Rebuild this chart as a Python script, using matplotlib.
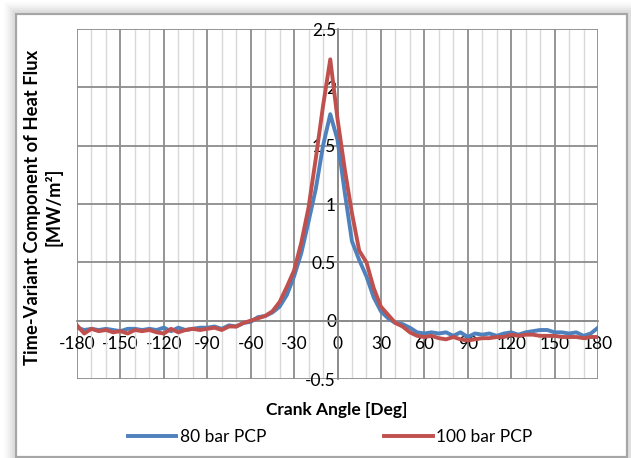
import matplotlib.pyplot as plt
from matplotlib.patches import Rectangle
from matplotlib.ticker import MultipleLocator
from matplotlib.lines import Line2D

plt.rcParams['font.family'] = ['Lato', 'DejaVu Sans']

# crank angle, deg (5 deg steps)
crank_angle = list(range(-180, 185, 5))

# time-variant heat flux component, MW/m2
flux_80bar = [
    -0.06, -0.08, -0.07, -0.08, -0.07, -0.08, -0.09, -0.07, -0.07, -0.08,   # -180 .. -135
    -0.07, -0.08, -0.06, -0.09, -0.06, -0.08, -0.07, -0.06, -0.06, -0.05,   # -130 .. -85
    -0.07, -0.04, -0.05, -0.02, -0.01, 0.03, 0.04, 0.07, 0.12, 0.22,        # -80 .. -35
    0.38, 0.58, 0.85, 1.13, 1.50, 1.77, 1.55, 1.10, 0.68, 0.52,             # -30 .. 15
    0.38, 0.20, 0.08, 0.02, -0.02, -0.03, -0.06, -0.10, -0.11, -0.10,       # 20 .. 65
    -0.11, -0.10, -0.13, -0.10, -0.14, -0.11, -0.12, -0.11, -0.13, -0.11,   # 70 .. 115
    -0.10, -0.12, -0.10, -0.09, -0.08, -0.08, -0.10, -0.10, -0.11, -0.10,   # 120 .. 165
    -0.13, -0.11, -0.06,                                                    # 170 .. 180
]
flux_100bar = [
    -0.04, -0.11, -0.07, -0.09, -0.08, -0.10, -0.09, -0.11, -0.08, -0.09,
    -0.08, -0.10, -0.11, -0.07, -0.10, -0.08, -0.07, -0.08, -0.07, -0.06,
    -0.08, -0.05, -0.05, -0.02, 0.00, 0.02, 0.04, 0.08, 0.16, 0.29,
    0.43, 0.67, 0.97, 1.39, 1.84, 2.24, 1.73, 1.30, 0.92, 0.60,
    0.50, 0.28, 0.12, 0.05, -0.02, -0.05, -0.10, -0.13, -0.14, -0.13,
    -0.15, -0.16, -0.14, -0.16, -0.17, -0.16, -0.15, -0.15, -0.14, -0.14,
    -0.12, -0.13, -0.12, -0.12, -0.13, -0.13, -0.13, -0.14, -0.14, -0.14,
    -0.15, -0.14, -0.14,
]

blue = '#4F81BD'
red = '#C0504D'

fig = plt.figure(figsize=(6.31, 4.58), dpi=100)

# faint shadow on the left/top edge plus the chart frame
W, H = 631, 458
for i, a in enumerate([0.015, 0.02, 0.025, 0.03, 0.035]):
    off = 12 - 2 * i
    fig.patches.append(Rectangle(((16 - off) / W, 0), (W - 16 + off) / W, (H - 14 + off) / H,
                                 transform=fig.transFigure, facecolor='black', alpha=a,
                                 edgecolor='none', zorder=-3))
fig.patches.append(Rectangle((16 / W, 1 / H), 611 / W, (H - 15) / H,
                             transform=fig.transFigure, facecolor='white',
                             edgecolor='#a6a6a6', linewidth=1.6, zorder=-2))

ax = fig.add_axes([77 / W, 79 / H, 521 / W, 350 / H])
ax.set_facecolor('none')

ax.plot(crank_angle, flux_80bar, color=blue, lw=2.8, zorder=4, solid_joinstyle='round')
ax.plot(crank_angle, flux_100bar, color=red, lw=2.8, zorder=5, solid_joinstyle='round')

ax.set_xlim(-180, 180)
ax.set_ylim(-0.5, 2.5)
ax.xaxis.set_major_locator(MultipleLocator(30))
ax.xaxis.set_minor_locator(MultipleLocator(10))
ax.yaxis.set_major_locator(MultipleLocator(0.5))

ax.grid(which='major', color='#8c8c8c', lw=1.3, zorder=1)
ax.grid(which='minor', axis='x', color='#d9d9d9', lw=1.0, zorder=0)
ax.set_axisbelow(True)

# axes cross at the origin
for s in ['top', 'right']:
    ax.spines[s].set_visible(False)
ax.spines['left'].set_position(('data', 0))
ax.spines['bottom'].set_position(('data', 0))
ax.spines['left'].set_color('#8c8c8c')
ax.spines['bottom'].set_color('#8c8c8c')
ax.spines['left'].set_linewidth(1.3)
ax.spines['bottom'].set_linewidth(1.3)

ax.tick_params(which='both', length=0)
ax.tick_params(axis='x', pad=11, labelsize=12.5)
ax.tick_params(axis='y', pad=1, labelsize=12.5)
ax.set_xticklabels([f'{int(v)}' for v in ax.get_xticks()])
ax.set_yticklabels([f'{v:g}' for v in ax.get_yticks()])

fig.text(337 / W, 1 - 410 / H, 'Crank Angle [Deg]', ha='center', va='center',
         fontsize=12.5, fontweight='bold')
fig.text(43 / W, 1 - 207 / H, 'Time-Variant Component of Heat Flux\n[MW/m²]',
         ha='center', va='center', rotation=90, fontsize=13.2, fontweight='bold',
         linespacing=1.2)

handles = [Line2D([], [], color=blue, lw=2.8), Line2D([], [], color=red, lw=2.8)]
fig.legend(handles, ['80 bar PCP', '100 bar PCP'], loc='center',
           bbox_to_anchor=(330 / W, 1 - 437 / H), ncol=2, frameon=False,
           fontsize=12.5, handlelength=2.8, handletextpad=0.2, columnspacing=6.8)

fig.savefig('out.png', dpi=100)
